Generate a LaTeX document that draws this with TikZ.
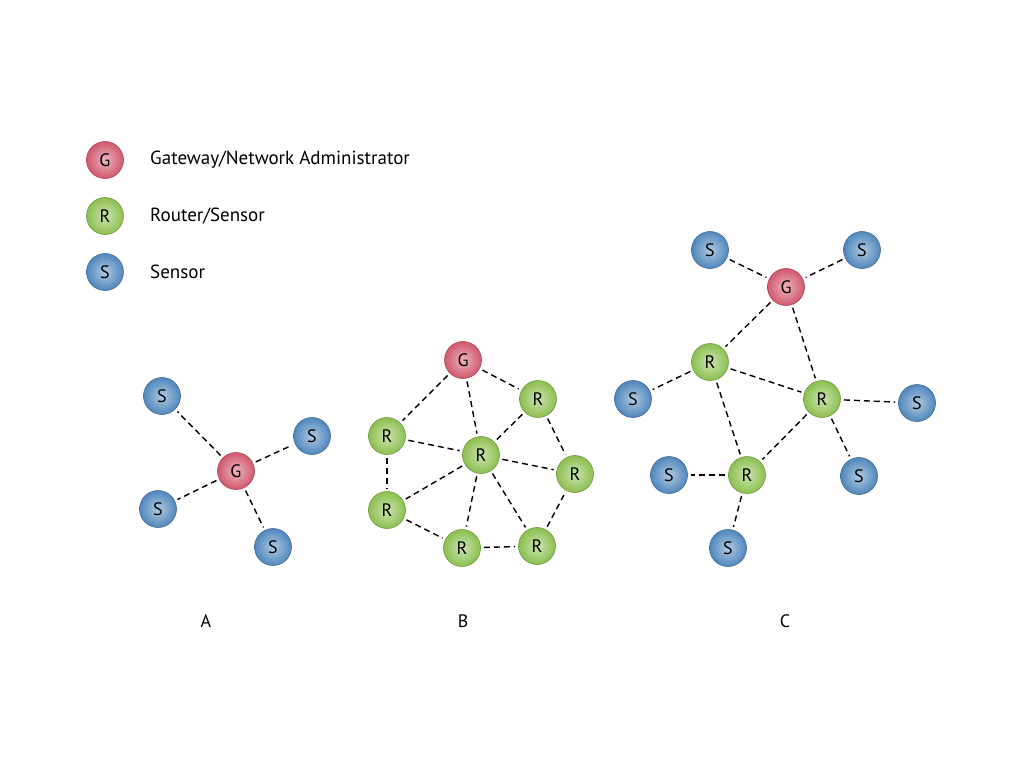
\documentclass[tikz,border=0pt]{standalone}
\usepackage{fontspec}
\setmainfont{PT Sans}
\definecolor{gcol}{RGB}{210,88,110}
\definecolor{rcol}{RGB}{140,192,80}
\definecolor{scol}{RGB}{80,135,188}
\begin{document}
\begin{tikzpicture}[x=1pt,y=-1pt,
  ball/.style={circle,minimum size=37pt,inner sep=0pt,font=\fontsize{18}{20}\selectfont,draw=#1!80!black,line width=0.6pt,shading=radial,inner color=#1!45!white,outer color=#1},
  gw/.style={ball=gcol},
  rt/.style={ball=rcol},
  sn/.style={ball=scol},
  link/.style={black,line width=1.4pt,dash pattern=on 6pt off 4pt,shorten >=3pt,shorten <=3pt},
  legtext/.style={anchor=west,font=\fontsize{19}{22}\selectfont,inner sep=0pt},
  lab/.style={font=\fontsize{18}{20}\selectfont,inner sep=0pt}]
\useasboundingbox[fill=white] (0,0) rectangle (1024,768);
% legend
\node[gw] (lg) at (105,160) {G};
\node[rt] (lr) at (105,216) {R};
\node[sn] (ls) at (105,272) {S};
\node[legtext] (tg) at (150,160) {Gateway/Network Administrator};
\node[legtext] (tr) at (150,216) {Router/Sensor};
\node[legtext] (ts) at (150,272) {Sensor};
% A
\node[gw] (ag) at (236,471) {G};
\node[sn] (as1) at (162,396) {S};
\node[sn] (as2) at (312,436) {S};
\node[sn] (as3) at (158,509) {S};
\node[sn] (as4) at (273,547) {S};
\foreach \s in {as1,as2,as3,as4} \draw[link] (ag) -- (\s);
\node[lab] (la) at (206,621) {A};
% B
\node[gw] (bg) at (463,360) {G};
\node[rt] (btr) at (538,399) {R};
\node[rt] (bl) at (387,436) {R};
\node[rt] (bc) at (481,455) {R};
\node[rt] (br) at (575,474) {R};
\node[rt] (blb) at (387,510) {R};
\node[rt] (bb) at (462,548) {R};
\node[rt] (bbr) at (537,546) {R};
\foreach \a/\b in {bg/bl,bg/bc,bg/btr,btr/bc,btr/br,bl/bc,bl/blb,bc/br,bc/blb,bc/bb,bc/bbr,blb/bb,bb/bbr,bbr/br}
  \draw[link] (\a) -- (\b);
\node[lab] (lb) at (463,621) {B};
% C
\node[gw] (cg) at (786,287) {G};
\node[sn] (cs1) at (710,250) {S};
\node[sn] (cs2) at (862,250) {S};
\node[rt] (cr1) at (710,362) {R};
\node[rt] (cr2) at (822,399) {R};
\node[rt] (cr3) at (747,475) {R};
\node[sn] (cs3) at (633,399) {S};
\node[sn] (cs4) at (917,403) {S};
\node[sn] (cs5) at (669,475) {S};
\node[sn] (cs6) at (859,476) {S};
\node[sn] (cs7) at (728,548) {S};
\foreach \a/\b in {cs1/cg,cs2/cg,cg/cr1,cg/cr2,cr1/cs3,cr1/cr2,cr1/cr3,cr2/cs4,cr2/cs6,cr2/cr3,cr3/cs5,cr3/cs7}
  \draw[link] (\a) -- (\b);
\node[lab] (lc) at (785,621) {C};
\end{tikzpicture}
\end{document}
